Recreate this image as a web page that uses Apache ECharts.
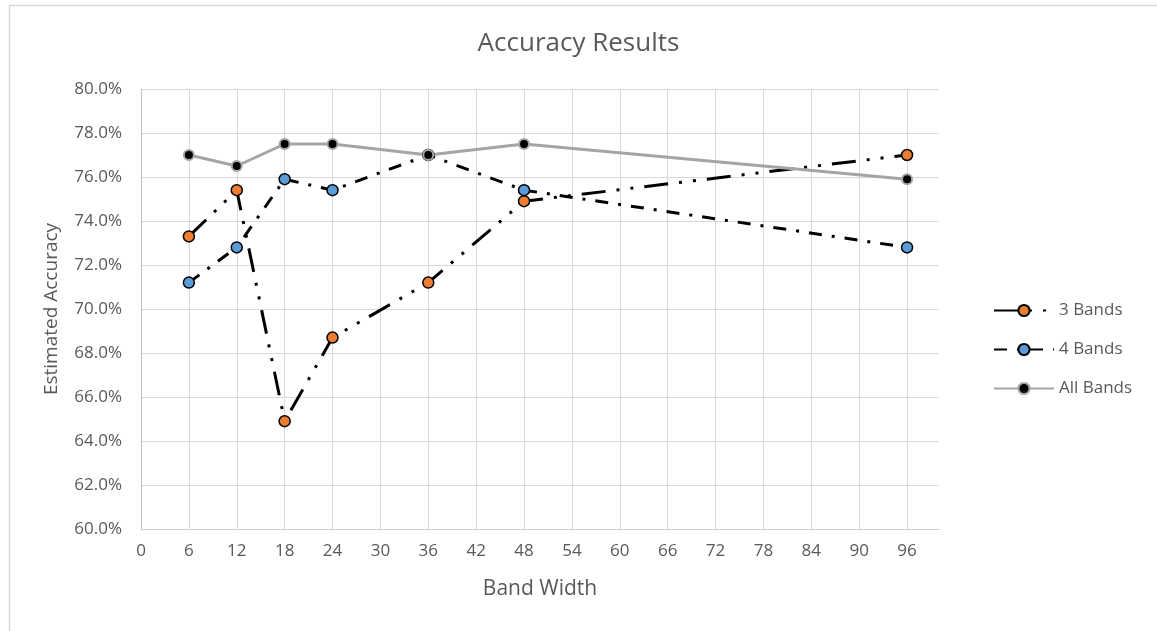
<!DOCTYPE html>
<html>
<head>
<meta charset="utf-8">
<script src="https://cdn.jsdelivr.net/npm/echarts@6/dist/echarts.min.js"></script>
<style>
  html, body { margin: 0; padding: 0; background: #ffffff; }
  #chart { width: 1157px; height: 631px; }
</style>
</head>
<body>
<div id="chart"></div>
<script>
// Band widths on the x axis and estimated accuracy (%) per band set
const bandWidths = [6, 12, 18, 24, 36, 48, 96];
const threeBands = [73.3, 75.4, 64.9, 68.7, 71.2, 74.9, 77.0];
const fourBands  = [71.2, 72.8, 75.9, 75.4, 77.0, 75.4, 72.8];
const allBands   = [77.0, 76.5, 77.5, 77.5, 77.0, 77.5, 75.9];
const seriesNames = ['3 Bands', '4 Bands', 'All Bands'];

const pairs = (xs, ys) => xs.map((x, i) => [x, ys[i]]);

const textColor = '#595959';
const fontFamily = "'Open Sans', 'Noto Sans', sans-serif";

const chart = echarts.init(document.getElementById('chart'), null, { renderer: 'canvas' });

chart.setOption({
  backgroundColor: '#ffffff',
  animation: false,
  textStyle: { fontFamily: fontFamily, color: textColor },
  graphic: [{
    type: 'rect',
    left: 7, top: 3,
    shape: { width: 1149, height: 640 },
    style: { fill: 'none', stroke: '#d9d9d9', lineWidth: 1.5 },
    silent: true
  }],
  title: {
    text: 'Accuracy Results',
    left: 'center',
    top: 26,
    textStyle: { fontSize: 26, fontWeight: 'normal', color: textColor, fontFamily: fontFamily }
  },
  grid: { left: 141, top: 89, right: 218, bottom: 102, containLabel: false },
  legend: {
    orient: 'vertical',
    left: 988,
    top: 297,
    itemWidth: 60,
    itemHeight: 14,
    itemGap: 22,
    data: seriesNames,
    textStyle: { fontSize: 17, color: textColor, fontFamily: fontFamily }
  },
  xAxis: {
    type: 'value',
    min: 0,
    max: 100,
    interval: 6,
    name: 'Band Width',
    nameLocation: 'middle',
    nameGap: 50,
    nameTextStyle: { fontSize: 21, color: textColor },
    axisLine: { show: true, lineStyle: { color: '#d0d0d0', width: 1 } },
    axisTick: { show: false },
    axisLabel: { fontSize: 17, color: textColor, margin: 14, showMaxLabel: false },
    splitLine: { show: true, showMaxLine: false, lineStyle: { color: '#d9d9d9', width: 1 } }
  },
  yAxis: {
    type: 'value',
    min: 60,
    max: 80,
    interval: 2,
    name: 'Estimated Accuracy',
    nameLocation: 'middle',
    nameGap: 80,
    nameTextStyle: { fontSize: 19, color: textColor },
    axisLine: { show: true, lineStyle: { color: '#bfbfbf', width: 1 } },
    axisTick: { show: false },
    axisLabel: { fontSize: 17, color: textColor, margin: 19, formatter: v => v.toFixed(1) + '%' },
    splitLine: { show: true, lineStyle: { color: '#d9d9d9', width: 1 } }
  },
  series: [
    {
      name: seriesNames[0],
      type: 'line',
      data: pairs(bandWidths, threeBands),
      symbol: 'circle',
      symbolSize: 11,
      itemStyle: { color: '#ED7D31', borderColor: '#000000', borderWidth: 1.5 },
      lineStyle: { color: '#000000', width: 3, type: [24, 11, 3, 11, 3, 11] }
    },
    {
      name: seriesNames[1],
      type: 'line',
      data: pairs(bandWidths, fourBands),
      symbol: 'circle',
      symbolSize: 11,
      itemStyle: { color: '#5B9BD5', borderColor: '#000000', borderWidth: 1.5 },
      lineStyle: { color: '#000000', width: 3, type: [13, 10, 3, 10] }
    },
    {
      name: seriesNames[2],
      type: 'line',
      data: pairs(bandWidths, allBands),
      symbol: 'circle',
      symbolSize: 10,
      itemStyle: { color: '#000000', borderColor: '#a5a5a5', borderWidth: 2 },
      lineStyle: { color: '#a5a5a5', width: 3, type: 'solid' }
    }
  ]
});
</script>
</body>
</html>
